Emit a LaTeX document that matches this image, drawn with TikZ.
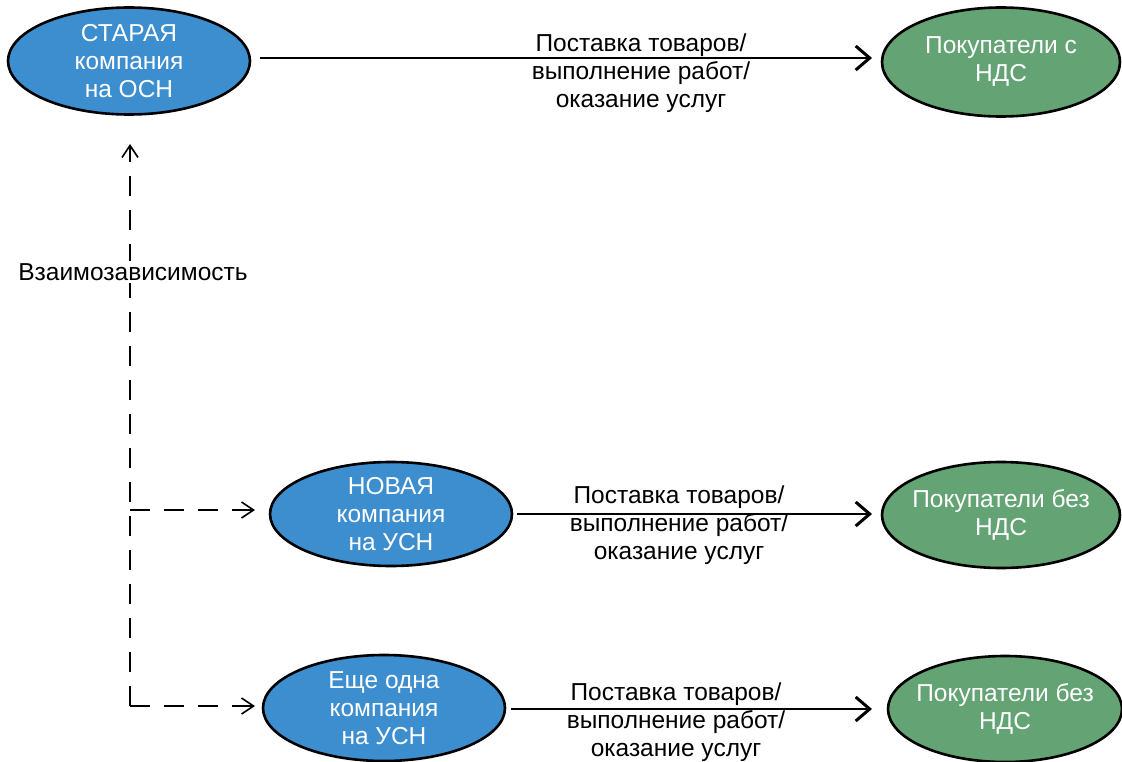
\documentclass[tikz,border=0pt]{standalone}
\usepackage{fontspec}
\setmainfont{Liberation Sans}
\usetikzlibrary{shapes.geometric,arrows.meta}
\definecolor{firmblue}{RGB}{61,142,207}
\definecolor{buyergreen}{RGB}{100,163,116}
\begin{document}
\begin{tikzpicture}[x=1pt,y=-1pt,
  txt/.style={font=\fontsize{24.5}{28}\selectfont},
  oval/.style={ellipse,draw=black,line width=2.6pt,text=white,
    align=center,inner xsep=-24pt,inner ysep=-6pt,txt},
  firm/.style={oval,fill=firmblue},
  buyer/.style={oval,fill=buyergreen},
  flow/.style={line width=2.6pt,-{Straight Barb[length=14pt,width=24pt,line width=3pt]}},
  link/.style={line width=1.4pt,dash pattern=on 20pt off 14pt,
    -{Straight Barb[length=12pt,width=16pt,line width=1.6pt]}},
  lbl/.style={txt,align=center}]
\useasboundingbox (0,0) rectangle (1122,762);

% companies
\node[firm,minimum width=242pt,minimum height=107pt] (old) at (129,61) {СТАРАЯ\\компания\\на ОСН};
\node[firm,minimum width=242pt,minimum height=104pt] (new) at (391,514) {НОВАЯ\\компания\\на УСН};
\node[firm,minimum width=242pt,minimum height=106pt] (other) at (384,708) {Еще одна\\компания\\на УСН};

% buyers
\node[buyer,minimum width=238pt,minimum height=109pt] (vat) at (1001,62) {Покупатели с\\НДС};
\node[buyer,minimum width=238pt,minimum height=106pt] (novat1) at (1001,515) {Покупатели без\\НДС};
\node[buyer,minimum width=234pt,minimum height=106pt] (novat2) at (1005,709) {Покупатели без\\НДС};

% supply flows
\draw[flow] (260,58) coordinate (f1s) -- (872,58) coordinate (f1e);
\node[lbl] (l1) at (641,73) {Поставка товаров/\\выполнение работ/\\оказание услуг};
\draw[flow] (517,514) coordinate (f2s) -- (872,514) coordinate (f2e);
\node[lbl] (l2) at (679,525) {Поставка товаров/\\выполнение работ/\\оказание услуг};
\draw[flow] (511,709) coordinate (f3s) -- (872,709) coordinate (f3e);
\node[lbl] (l3) at (676,722) {Поставка товаров/\\выполнение работ/\\оказание услуг};

% interdependence links
\coordinate (corner) at (130,706);
\coordinate (mid) at (130,510);
\coordinate (up) at (130,144);
\draw[link] (corner) -- (up);
\draw[link] (mid) -- (255,510);
\draw[link] (corner) -- (255,706);
\node[lbl,fill=white,inner sep=2pt] (dep) at (133,272) {Взаимозависимость};
\end{tikzpicture}
\end{document}
